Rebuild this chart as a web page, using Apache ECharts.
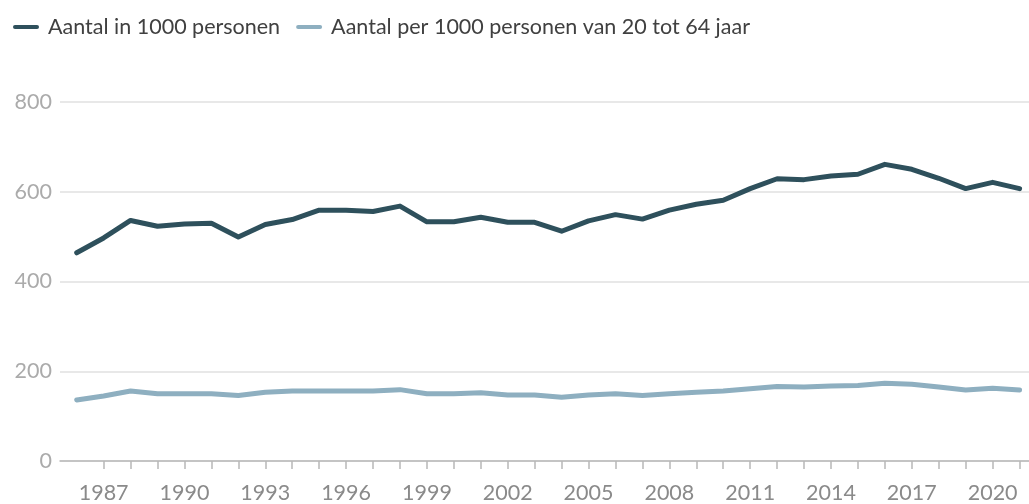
<!DOCTYPE html>
<html>
<head>
<meta charset="utf-8">
<script src="https://cdn.jsdelivr.net/npm/echarts@6/dist/echarts.min.js"></script>
<style>
  html, body { margin: 0; padding: 0; background: #fff; }
  #chart { width: 1029px; height: 504px; }
</style>
</head>
<body>
<div id="chart"></div>
<script>
// jaren en waarden
var years = [1986, 1987, 1988, 1989, 1990, 1991, 1992, 1993, 1994, 1995, 1996, 1997,
  1998, 1999, 2000, 2001, 2002, 2003, 2004, 2005, 2006, 2007, 2008, 2009,
  2010, 2011, 2012, 2013, 2014, 2015, 2016, 2017, 2018, 2019, 2020, 2021];

var aantal = [464, 497, 536, 523, 528, 530, 499, 527, 538, 559, 559, 556,
  568, 533, 533, 543, 532, 532, 512, 535, 549, 539, 559, 572,
  581, 607, 629, 627, 635, 639, 661, 650, 630, 607, 621, 607];

var perDuizend = [136, 145, 156, 150, 150, 150, 146, 153, 156, 156, 156, 156,
  159, 150, 150, 152, 147, 147, 142, 147, 150, 146, 150, 153,
  156, 161, 166, 165, 167, 168, 173, 171, 165, 158, 162, 158];

var tickYears = [];
for (var y = 1987; y <= 2021; y++) tickYears.push(y);
var labelYears = [1987, 1990, 1993, 1996, 1999, 2002, 2005, 2008, 2011, 2014, 2017, 2020];

var yTicks = [0, 200, 400, 600, 800];

function pairs(values) {
  return years.map(function (yr, i) { return [yr, values[i]]; });
}

var myChart = echarts.init(document.getElementById('chart'));

var pill = 'path://M2,0 H24 A2,2 0 0 1 24,4 H2 A2,2 0 0 1 2,0 Z';

myChart.setOption({
  animation: false,
  textStyle: { fontFamily: 'Lato' },
  legend: {
    left: 8,
    top: 11,
    itemWidth: 26,
    itemHeight: 5,
    itemGap: 16,
    icon: pill,
    textStyle: { fontFamily: 'Lato', fontSize: 21.5, color: '#404040', padding: [0, 0, 0, 4] },
    data: ['Aantal in 1000 personen', 'Aantal per 1000 personen van 20 tot 64 jaar']
  },
  grid: { left: 60, right: 0, top: 102, bottom: 42 },
  xAxis: {
    type: 'value',
    min: 1985.38,
    max: 2021.35,
    splitLine: { show: false },
    axisLine: { lineStyle: { color: '#b8b8b8', width: 1.5 } },
    axisTick: { customValues: tickYears, length: 8, lineStyle: { color: '#b8b8b8', width: 1.5 } },
    axisLabel: {
      customValues: labelYears,
      margin: 21,
      fontSize: 21.5,
      color: '#8a8a8a',
      formatter: function (v) { return String(v); }
    }
  },
  yAxis: {
    type: 'value',
    min: yTicks[0],
    max: yTicks[yTicks.length - 1],
    interval: 200,
    axisLine: { show: false },
    axisTick: { show: false },
    axisLabel: { margin: 8, fontSize: 21.5, color: '#ababab' },
    splitLine: { lineStyle: { color: '#e1e1e1', width: 1.5 } }
  },
  series: [
    {
      name: 'Aantal in 1000 personen',
      type: 'line',
      symbol: 'none',
      clip: false,
      color: '#2e505c',
      lineStyle: { width: 5, cap: 'round', join: 'round' },
      data: pairs(aantal)
    },
    {
      name: 'Aantal per 1000 personen van 20 tot 64 jaar',
      type: 'line',
      symbol: 'none',
      clip: false,
      color: '#8eafc0',
      lineStyle: { width: 5, cap: 'round', join: 'round' },
      data: pairs(perDuizend)
    }
  ]
});
</script>
</body>
</html>
